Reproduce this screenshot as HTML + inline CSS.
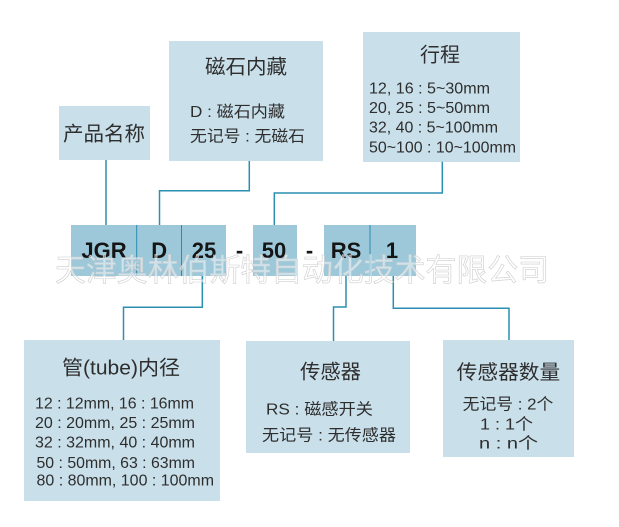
<!DOCTYPE html>
<html><head><meta charset="utf-8"><style>
html,body{margin:0;padding:0;background:#fff;}
svg{display:block;}
text{font-family:"Liberation Sans","Noto Sans CJK SC",sans-serif;fill:#2e2e2e;}
.t{font-size:20px;}
.l{font-size:16px;}
.c{font-size:22px;font-weight:bold;fill:#151515;}
.wm{font-family:"Liberation Sans","Noto Sans CJK SC",sans-serif;font-size:31px;fill:#ffffff;fill-opacity:0.5;stroke:#cdcdcd;stroke-width:0.6;}
</style></head><body>
<svg width="619" height="527" viewBox="0 0 619 527" xmlns="http://www.w3.org/2000/svg">
<rect width="619" height="527" fill="#fff"/>
<!-- top boxes -->
<rect x="59" y="106" width="91" height="54" fill="#c9dfea"/>
<rect x="169" y="41" width="154" height="120" fill="#c9dfea"/>
<rect x="363" y="32" width="157" height="130" fill="#c9dfea"/>
<!-- bottom boxes -->
<rect x="24" y="340" width="196" height="161" fill="#c9dfea"/>
<rect x="246" y="341" width="164" height="112" fill="#c9dfea"/>
<rect x="443" y="340" width="131" height="117" fill="#c9dfea"/>
<!-- code boxes -->
<rect x="71" y="225" width="155" height="51" fill="#9cc8da"/>
<rect x="253" y="225" width="44" height="51" fill="#9cc8da"/>
<rect x="324" y="225" width="92" height="51" fill="#9cc8da"/>
<g stroke="#2a8db0" stroke-width="1">
<line x1="136.7" y1="225" x2="136.7" y2="276"/>
<line x1="181.5" y1="225" x2="181.5" y2="276"/>
<line x1="370" y1="225" x2="370" y2="276"/>
</g>
<!-- connectors -->
<g stroke="#2a8fb3" stroke-width="1.5" fill="none">
<polyline points="106,160 106,225"/>
<polyline points="249.3,161 249.3,190.7 159.5,190.7 159.5,225"/>
<polyline points="442.3,161.7 442.3,193 274.3,193 274.3,225"/>
<polyline points="202.3,276 202.3,307.3 123.5,307.3 123.5,340"/>
<polyline points="346,276 346,307 333.5,307 333.5,341"/>
<polyline points="393.3,276 393.3,308.3 509,308.3 509,340"/>
</g>
<!-- code text -->
<text class="c" x="104" y="258" text-anchor="middle">JGR</text>
<text class="c" x="159.2" y="258" text-anchor="middle">D</text>
<text class="c" x="204" y="258" text-anchor="middle">25</text>
<text class="c" x="239.5" y="258" text-anchor="middle">-</text>
<text class="c" x="274" y="258" text-anchor="middle">50</text>
<text class="c" x="309.5" y="258" text-anchor="middle">-</text>
<text class="c" x="346" y="258" text-anchor="middle">RS</text>
<text class="c" x="392" y="258" text-anchor="middle">1</text>
<!-- watermark -->
<text class="wm" x="55" y="281" textLength="494" lengthAdjust="spacingAndGlyphs">天津奥林伯斯特自动化技术有限公司</text>
<!-- top box text -->
<text class="t" x="63" y="140.5" textLength="82" lengthAdjust="spacingAndGlyphs">产品名称</text>
<text class="t" x="205" y="73.5" textLength="82" lengthAdjust="spacingAndGlyphs">磁石内藏</text>
<text class="l" x="190" y="117" textLength="95" lengthAdjust="spacingAndGlyphs">D : 磁石内藏</text>
<text class="l" x="190" y="141.5" textLength="115" lengthAdjust="spacingAndGlyphs">无记号 : 无磁石</text>
<text class="t" x="420" y="61.5" textLength="40" lengthAdjust="spacingAndGlyphs">行程</text>
<text class="l" x="369" y="93.3" textLength="121" lengthAdjust="spacingAndGlyphs">12, 16 : 5~30mm</text>
<text class="l" x="369" y="112.8" textLength="121" lengthAdjust="spacingAndGlyphs">20, 25 : 5~50mm</text>
<text class="l" x="369" y="132.4" textLength="129" lengthAdjust="spacingAndGlyphs">32, 40 : 5~100mm</text>
<text class="l" x="369" y="152.3" textLength="147" lengthAdjust="spacingAndGlyphs">50~100 : 10~100mm</text>
<!-- tube box -->
<text class="t" x="62" y="374.5" textLength="118" lengthAdjust="spacingAndGlyphs">管(tube)内径</text>
<text class="l" x="35" y="408.5" textLength="159" lengthAdjust="spacingAndGlyphs">12 : 12mm, 16 : 16mm</text>
<text class="l" x="35" y="427.8" textLength="160" lengthAdjust="spacingAndGlyphs">20 : 20mm, 25 : 25mm</text>
<text class="l" x="35" y="447.4" textLength="160" lengthAdjust="spacingAndGlyphs">32 : 32mm, 40 : 40mm</text>
<text class="l" x="36.5" y="468" textLength="158.5" lengthAdjust="spacingAndGlyphs">50 : 50mm, 63 : 63mm</text>
<text class="l" x="36.5" y="485.5" textLength="177.5" lengthAdjust="spacingAndGlyphs">80 : 80mm, 100 : 100mm</text>
<!-- sensor box -->
<text class="t" x="300" y="378.5" textLength="61" lengthAdjust="spacingAndGlyphs">传感器</text>
<text class="l" x="266" y="414.5" textLength="107" lengthAdjust="spacingAndGlyphs">RS : 磁感开关</text>
<text class="l" x="262" y="440.5" textLength="134" lengthAdjust="spacingAndGlyphs">无记号 : 无传感器</text>
<!-- sensor count box -->
<text class="t" x="456.7" y="379" textLength="103.5" lengthAdjust="spacingAndGlyphs">传感器数量</text>
<text class="l" x="462.7" y="409.3" textLength="90.6" lengthAdjust="spacingAndGlyphs">无记号 : 2个</text>
<text class="l" x="480" y="429.3" textLength="53" lengthAdjust="spacingAndGlyphs">1 : 1个</text>
<text class="l" x="479" y="448.3" textLength="59" lengthAdjust="spacingAndGlyphs">n : n个</text>
</svg>
</body></html>
